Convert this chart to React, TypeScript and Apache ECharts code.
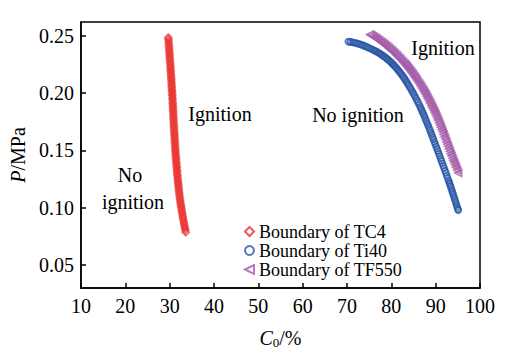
import React, { useEffect, useRef } from "react";
import * as echarts from "echarts";

const xMin = 10;
const xMax = 100;
const yTickValues = [0.05, 0.1, 0.15, 0.2, 0.25];

const seriesNames = ["Boundary of TC4", "Boundary of Ti40", "Boundary of TF550"];

// [C0 (%), P (MPa)]
const tc4 = [
  [29.69, 0.2485], [29.73, 0.2468], [29.76, 0.245], [29.8, 0.2433], [29.83, 0.2415], [29.86, 0.2398], [29.89, 0.238], [29.93, 0.2363],
  [29.96, 0.2345], [29.99, 0.2328], [30.02, 0.231], [30.06, 0.2293], [30.09, 0.2275], [30.13, 0.2258], [30.16, 0.224], [30.19, 0.2223],
  [30.22, 0.2205], [30.25, 0.2188], [30.28, 0.217], [30.31, 0.2153], [30.34, 0.2135], [30.37, 0.2118], [30.4, 0.21], [30.43, 0.2083],
  [30.46, 0.2065], [30.49, 0.2048], [30.51, 0.203], [30.54, 0.2013], [30.57, 0.1995], [30.6, 0.1978], [30.62, 0.196], [30.65, 0.1943],
  [30.67, 0.1925], [30.7, 0.1908], [30.72, 0.189], [30.74, 0.1873], [30.76, 0.1855], [30.79, 0.1838], [30.81, 0.182], [30.84, 0.1803],
  [30.86, 0.1785], [30.88, 0.1768], [30.9, 0.175], [30.93, 0.1733], [30.95, 0.1715], [30.98, 0.1698], [31.0, 0.168], [31.03, 0.1663],
  [31.06, 0.1645], [31.09, 0.1628], [31.11, 0.161], [31.14, 0.1593], [31.17, 0.1575], [31.2, 0.1558], [31.22, 0.154], [31.25, 0.1523],
  [31.28, 0.1505], [31.31, 0.1488], [31.34, 0.147], [31.38, 0.1453], [31.41, 0.1435], [31.45, 0.1418], [31.49, 0.14], [31.53, 0.1383],
  [31.56, 0.1365], [31.6, 0.1348], [31.64, 0.133], [31.68, 0.1313], [31.71, 0.1295], [31.76, 0.1278], [31.8, 0.126], [31.85, 0.1243],
  [31.89, 0.1225], [31.94, 0.1208], [31.99, 0.119], [32.04, 0.1173], [32.08, 0.1155], [32.13, 0.1138], [32.18, 0.112], [32.24, 0.1103],
  [32.29, 0.1085], [32.35, 0.1068], [32.41, 0.105], [32.49, 0.1033], [32.56, 0.1015], [32.63, 0.0998], [32.7, 0.098], [32.78, 0.0963],
  [32.85, 0.0945], [32.93, 0.0928], [33.01, 0.091], [33.09, 0.0893], [33.17, 0.0875], [33.26, 0.0858], [33.35, 0.084], [33.44, 0.0823],
  [33.52, 0.0805], [33.62, 0.0787],
];

const ti40 = [
  [70.3, 0.2449], [70.7, 0.2447], [71.1, 0.2444], [71.5, 0.2441], [71.9, 0.2437], [72.3, 0.2433], [72.7, 0.2429], [73.1, 0.2424],
  [73.5, 0.2418], [73.9, 0.2412], [74.3, 0.2406], [74.7, 0.2399], [75.1, 0.2391], [75.5, 0.2384], [75.9, 0.2376], [76.2, 0.2371],
  [76.5, 0.2365], [76.8, 0.2359], [77.1, 0.2352], [77.4, 0.2345], [77.7, 0.2337], [78.0, 0.2329], [78.3, 0.2321], [78.6, 0.2312],
  [78.9, 0.2303], [79.2, 0.2294], [79.5, 0.2284], [79.75, 0.2275], [80.0, 0.2266], [80.25, 0.2256], [80.5, 0.2246], [80.75, 0.2236],
  [81.0, 0.2225], [81.25, 0.2214], [81.5, 0.2202], [81.75, 0.219], [82.0, 0.2178], [82.25, 0.2165], [82.5, 0.2152], [82.75, 0.2138],
  [83.0, 0.2124], [83.25, 0.2109], [83.5, 0.2094], [83.75, 0.2078], [84.0, 0.2062], [84.25, 0.2046], [84.5, 0.2029], [84.75, 0.2012],
  [85.0, 0.1995], [85.25, 0.1977], [85.5, 0.1959], [85.75, 0.194], [86.0, 0.1921], [86.25, 0.1901], [86.5, 0.1881], [86.7, 0.1864],
  [86.9, 0.1847], [87.1, 0.1829], [87.3, 0.1811], [87.5, 0.1793], [87.7, 0.1774], [87.9, 0.1755], [88.1, 0.1736], [88.3, 0.1717],
  [88.5, 0.1697], [88.7, 0.1677], [88.9, 0.1657], [89.1, 0.1637], [89.3, 0.1616], [89.5, 0.1596], [89.7, 0.1575], [89.9, 0.1555],
  [90.1, 0.1534], [90.3, 0.1514], [90.5, 0.1493], [90.7, 0.1472], [90.9, 0.1451], [91.1, 0.143], [91.3, 0.1409], [91.5, 0.1388],
  [91.7, 0.1367], [91.9, 0.1346], [92.1, 0.1324], [92.3, 0.1303], [92.5, 0.1281], [92.7, 0.126], [92.9, 0.1238], [93.05, 0.1222],
  [93.2, 0.1205], [93.35, 0.1188], [93.5, 0.117], [93.65, 0.1152], [93.8, 0.1134], [93.95, 0.1116], [94.1, 0.1098], [94.25, 0.108],
  [94.4, 0.1061], [94.55, 0.1043], [94.7, 0.1024], [94.85, 0.1006], [95.0, 0.0988], [95.1, 0.0978],
];

const tf550 = [
  [75.2, 0.2512], [75.5, 0.2505], [75.8, 0.2497], [76.1, 0.249], [76.4, 0.2482], [76.7, 0.2474], [77.0, 0.2466], [77.3, 0.2458],
  [77.6, 0.2449], [77.9, 0.2441], [78.2, 0.2432], [78.5, 0.2423], [78.8, 0.2413], [79.1, 0.2404], [79.4, 0.2394], [79.7, 0.2385],
  [80.0, 0.2375], [80.3, 0.2364], [80.6, 0.2353], [80.9, 0.2342], [81.2, 0.233], [81.5, 0.2318], [81.8, 0.2306], [82.1, 0.2294],
  [82.4, 0.2281], [82.7, 0.2269], [83.0, 0.2256], [83.25, 0.2245], [83.5, 0.2234], [83.75, 0.2222], [84.0, 0.221], [84.25, 0.2197],
  [84.5, 0.2184], [84.75, 0.2171], [85.0, 0.2157], [85.25, 0.2143], [85.5, 0.2129], [85.75, 0.2115], [86.0, 0.21], [86.25, 0.2085],
  [86.5, 0.207], [86.75, 0.2055], [87.0, 0.2039], [87.2, 0.2026], [87.4, 0.2013], [87.6, 0.1999], [87.8, 0.1985], [88.0, 0.1971],
  [88.2, 0.1956], [88.4, 0.1941], [88.6, 0.1926], [88.8, 0.1911], [89.0, 0.1895], [89.2, 0.1879], [89.4, 0.1863], [89.6, 0.1847],
  [89.8, 0.183], [90.0, 0.1813], [90.2, 0.1795], [90.4, 0.1777], [90.6, 0.1758], [90.8, 0.1739], [91.0, 0.172], [91.2, 0.17],
  [91.4, 0.168], [91.6, 0.166], [91.8, 0.1639], [92.0, 0.1618], [92.2, 0.1597], [92.4, 0.1576], [92.6, 0.1555], [92.8, 0.1534],
  [93.0, 0.1513], [93.2, 0.1492], [93.4, 0.1471], [93.6, 0.1451], [93.8, 0.143], [94.0, 0.141], [94.2, 0.139], [94.4, 0.1371],
  [94.6, 0.1351], [94.85, 0.1327], [95.1, 0.1303],
];

const annotations = [
  { text: "Ignition", x: 220, y: 114 },
  { text: "No ignition", x: 358, y: 115 },
  { text: "Ignition", x: 443, y: 48 },
  { text: "No", x: 130, y: 175 },
  { text: "ignition", x: 133, y: 202 },
];

const FONT = "Liberation Serif";
const RED = "#e8302c";
const BLUE = "#2b56a6";
const PURPLE = "#a35aa9";
const LEFT_TRI = "path://M0,5 L10,0 L10,10 Z";

export default function App() {
  const ref = useRef<HTMLDivElement>(null);
  useEffect(() => {
    if (!ref.current) return;
    const chart = echarts.init(ref.current, undefined, { renderer: "svg" });
    const mk = (name: string, data: number[][], symbol: string, size: number, color: string, bw: number) => ({
      name,
      type: "scatter",
      data,
      symbol,
      symbolSize: size,
      itemStyle: { color: "rgba(255,255,255,0)", borderColor: color, borderWidth: bw },
      emphasis: { disabled: true },
    });
    chart.setOption({
      animation: false,
      backgroundColor: "#fff",
      grid: { left: 81, right: 29, top: 22, bottom: 50, show: true, borderColor: "#000", borderWidth: 1.5 },
      legend: {
        orient: "vertical",
        left: 239,
        top: 217,
        itemGap: 0,
        itemWidth: 9,
        itemHeight: 9,
        textStyle: { fontFamily: FONT, fontSize: 18, color: "#000", lineHeight: 19 },
        data: seriesNames,
      },
      xAxis: {
        type: "value",
        min: xMin,
        max: xMax,
        interval: 10,
        name: "{i|C}{s|0}/%",
        nameLocation: "middle",
        nameGap: 38,
        nameTextStyle: {
          fontFamily: FONT,
          fontSize: 20,
          color: "#000",
          rich: {
            i: { fontFamily: FONT, fontSize: 20, fontStyle: "italic", color: "#000" },
            s: { fontFamily: FONT, fontSize: 13, color: "#000", padding: [10, 0, 0, 0] },
          },
        },
        axisLine: { lineStyle: { color: "#000", width: 1.5 } },
        axisTick: { inside: true, length: 5, lineStyle: { color: "#000", width: 1.5 } },
        axisLabel: { fontFamily: FONT, fontSize: 20, color: "#000", margin: 8 },
        splitLine: { show: false },
      },
      yAxis: {
        type: "value",
        min: 0.03,
        max: 0.262,
        name: "{i|P}/MPa",
        nameLocation: "middle",
        nameGap: 46,
        nameTextStyle: {
          fontFamily: FONT,
          fontSize: 20,
          color: "#000",
          rich: {
            i: { fontFamily: FONT, fontSize: 20, fontStyle: "italic", color: "#000" },
          },
        },
        axisLine: { lineStyle: { color: "#000", width: 1.5 } },
        axisTick: { inside: true, length: 5, customValues: yTickValues, lineStyle: { color: "#000", width: 1.5 } },
        axisLabel: {
          fontFamily: FONT,
          fontSize: 20,
          color: "#000",
          margin: 7,
          customValues: yTickValues,
          formatter: (v: number) => v.toFixed(2),
        },
        splitLine: { show: false },
      },
      series: [
        mk(seriesNames[0], tc4, "diamond", 7, RED, 1.5),
        mk(seriesNames[1], ti40, "circle", 6, BLUE, 1.6),
        mk(seriesNames[2], tf550, LEFT_TRI, 7, PURPLE, 1.5),
      ],
      graphic: annotations.map((a) => ({
        type: "text",
        x: a.x,
        y: a.y,
        silent: true,
        style: { text: a.text, font: `20px "${FONT}"`, fill: "#000", align: "center", verticalAlign: "middle" },
      })),
    });
    return () => chart.dispose();
  }, []);
  return (
    <div
      ref={ref}
      style={{ position: "fixed", left: 0, top: 0, width: 509, height: 354, background: "#fff" }}
    />
  );
}
